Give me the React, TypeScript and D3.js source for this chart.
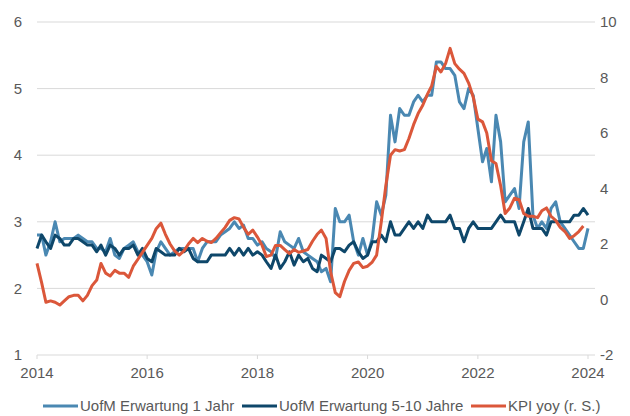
import { useEffect, useRef } from "react";
import * as d3 from "d3";

// monthly values, first point = Jan 2014
const oneYear: number[] = [
  2.8, 2.8, 2.5, 2.7, 3.0, 2.7, 2.75, 2.75, 2.75, 2.8,
  2.75, 2.7, 2.7, 2.6, 2.6, 2.55, 2.75, 2.5, 2.45, 2.6,
  2.65, 2.7, 2.55, 2.5, 2.4, 2.2, 2.55, 2.7, 2.6, 2.5,
  2.55, 2.6, 2.6, 2.6, 2.6, 2.4, 2.6, 2.7, 2.7, 2.7,
  2.8, 2.85, 2.9, 3.0, 2.9, 2.95, 2.75, 2.75, 2.65, 2.7,
  2.6, 2.55, 2.45, 2.85, 2.7, 2.65, 2.6, 2.75, 2.55, 2.5,
  2.45, 2.4, 2.25, 2.3, 2.1, 3.2, 3.0, 3.0, 3.1, 2.7,
  2.5, 2.75, 2.5, 2.75, 3.3, 3.1, 3.4, 4.6, 4.2, 4.7,
  4.6, 4.6, 4.8, 4.9, 4.8, 4.9, 4.9, 5.4, 5.4, 5.3,
  5.3, 5.2, 4.8, 4.7, 5.0, 4.9, 4.4, 3.9, 4.1, 3.6,
  4.6, 4.2, 3.3, 3.4, 3.5, 3.2, 4.2, 4.5, 3.1, 2.9,
  3.0, 2.9, 3.2, 3.3, 3.0, 2.9, 2.8, 2.7, 2.6, 2.6,
  2.9,
];

const fiveTen: number[] = [
  2.6, 2.8, 2.7, 2.6, 2.8, 2.75, 2.65, 2.65, 2.75, 2.75,
  2.7, 2.65, 2.65, 2.55, 2.65, 2.5, 2.65, 2.6, 2.5, 2.6,
  2.6, 2.65, 2.5, 2.6, 2.45, 2.4, 2.6, 2.55, 2.5, 2.5,
  2.5, 2.6, 2.55, 2.6, 2.45, 2.4, 2.4, 2.4, 2.5, 2.5,
  2.5, 2.5, 2.6, 2.5, 2.6, 2.5, 2.6, 2.5, 2.55, 2.5,
  2.4, 2.3, 2.5, 2.3, 2.4, 2.55, 2.35, 2.5, 2.4, 2.45,
  2.3, 2.25, 2.5, 2.45, 2.4, 2.6, 2.6, 2.55, 2.65, 2.7,
  2.55, 2.45, 2.5, 2.7, 2.7, 2.8, 2.7, 3.0, 2.8, 2.8,
  2.9, 3.0, 2.9, 3.0, 2.9, 3.1, 3.0, 3.0, 3.0, 3.0,
  3.1, 2.9, 2.9, 2.7, 2.9, 3.0, 2.9, 2.9, 2.9, 2.9,
  3.0, 3.1, 3.0, 3.0, 3.0, 2.8, 3.0, 3.2, 2.9, 2.9,
  2.9, 2.8, 3.0, 3.0, 3.0, 3.0, 3.0, 3.1, 3.1, 3.2,
  3.1,
];

const kpi: number[] = [
  1.3, 0.6, -0.1, -0.05, -0.1, -0.2, -0.05, 0.1, 0.15, 0.15,
  -0.05, 0.15, 0.5, 0.7, 1.3, 0.95, 0.85, 1.05, 0.95, 0.95,
  0.8, 1.2, 1.45, 1.7, 1.95, 2.2, 2.55, 2.75, 2.35, 2.0,
  1.75, 1.6, 1.75, 2.0, 2.2, 2.05, 2.2, 2.1, 2.05, 2.2,
  2.4, 2.6, 2.85, 2.95, 2.9, 2.6, 2.35, 2.5, 2.25, 1.95,
  1.55, 1.6, 1.95, 1.95, 1.8, 1.65, 1.8, 1.7, 1.75, 1.8,
  2.1, 2.35, 2.5, 2.2, 1.0, 0.25, 0.1, 0.65, 1.05, 1.3,
  1.35, 1.15, 1.2, 1.35, 1.6, 2.8, 4.1, 5.2, 5.4, 5.35,
  5.4, 5.8, 6.3, 6.7, 7.0, 7.4, 7.7, 8.4, 8.2, 8.5,
  9.05, 8.5, 8.3, 8.15, 7.8, 7.3, 6.5, 6.4, 6.0, 5.0,
  4.9, 4.1, 3.1, 3.3, 3.65, 3.6, 3.1, 3.0, 3.0, 2.95,
  3.2, 3.3, 3.0, 2.85, 2.6, 2.45, 2.2, 2.3, 2.45, 2.65,
];

const leftTicks = [1, 2, 3, 4, 5, 6];
const rightTicks = [-2, 0, 2, 4, 6, 8, 10];
const yearTicks = [2014, 2016, 2018, 2020, 2022, 2024];

const series = [
  { name: "UofM Erwartung 1 Jahr", values: oneYear, axis: "left", color: "#4a88b2" },
  { name: "UofM Erwartung 5-10 Jahre", values: fiveTen, axis: "left", color: "#0e476a" },
  { name: "KPI yoy (r. S.)", values: kpi, axis: "right", color: "#db573a" },
];

const FONT = "'Liberation Sans', Arial, sans-serif";
const TEXT = "#595959";
const FONT_SIZE = 15;

export default function App() {
  const ref = useRef<SVGSVGElement | null>(null);

  useEffect(() => {
    const width = 630;
    const height = 416;
    const plot = { left: 37, right: 595, top: 22, bottom: 355 };

    const svg = d3.select(ref.current).attr("width", width).attr("height", height);
    svg.selectAll("*").remove();

    const start = new Date(2014, 0, 1);
    const date = (i: number) => d3.timeMonth.offset(start, i);

    const x = d3
      .scaleTime()
      .domain([start, new Date(2024, 0, 1)])
      .range([plot.left, 588]);
    const yL = d3.scaleLinear().domain([1, 6]).range([plot.bottom, plot.top]);
    const yR = d3.scaleLinear().domain([-2, 10]).range([plot.bottom, plot.top]);

    // gridlines
    svg
      .append("g")
      .selectAll("line")
      .data(leftTicks)
      .enter()
      .append("line")
      .attr("x1", plot.left)
      .attr("x2", plot.right)
      .attr("y1", (d) => yL(d))
      .attr("y2", (d) => yL(d))
      .attr("stroke", "#d9d9d9")
      .attr("stroke-width", 1);

    // x tick marks
    svg
      .append("g")
      .selectAll("line")
      .data(yearTicks)
      .enter()
      .append("line")
      .attr("x1", (d) => x(new Date(d, 0, 1)))
      .attr("x2", (d) => x(new Date(d, 0, 1)))
      .attr("y1", plot.bottom)
      .attr("y2", plot.bottom + 4)
      .attr("stroke", "#d9d9d9");

    const labels = svg.append("g").attr("font-family", FONT).attr("font-size", FONT_SIZE).attr("fill", TEXT);

    labels
      .selectAll("text.l")
      .data(leftTicks)
      .enter()
      .append("text")
      .attr("class", "l")
      .attr("x", 22)
      .attr("y", (d) => yL(d))
      .attr("dy", "0.35em")
      .attr("text-anchor", "end")
      .text((d) => d);

    labels
      .selectAll("text.r")
      .data(rightTicks)
      .enter()
      .append("text")
      .attr("class", "r")
      .attr("x", 600)
      .attr("y", (d) => yR(d))
      .attr("dy", "0.35em")
      .attr("text-anchor", "start")
      .text((d) => d);

    labels
      .selectAll("text.x")
      .data(yearTicks)
      .enter()
      .append("text")
      .attr("class", "x")
      .attr("x", (d) => x(new Date(d, 0, 1)))
      .attr("y", 373)
      .attr("dy", "0.35em")
      .attr("text-anchor", "middle")
      .text((d) => d);

    // lines
    series.forEach((s) => {
      const y = s.axis === "left" ? yL : yR;
      const line = d3
        .line<number>()
        .x((_, i) => x(date(i)))
        .y((d) => y(d));
      svg
        .append("path")
        .datum(s.values)
        .attr("d", line)
        .attr("fill", "none")
        .attr("stroke", s.color)
        .attr("stroke-width", 3)
        .attr("stroke-linejoin", "round");
    });

    // legend
    const legendX = [43, 242, 471];
    const legend = svg.append("g").attr("font-family", FONT).attr("font-size", FONT_SIZE).attr("fill", TEXT);
    series.forEach((s, i) => {
      legend
        .append("line")
        .attr("x1", legendX[i])
        .attr("x2", legendX[i] + 35)
        .attr("y1", 406)
        .attr("y2", 406)
        .attr("stroke", s.color)
        .attr("stroke-width", 3);
      legend
        .append("text")
        .attr("x", legendX[i] + 37)
        .attr("y", 406)
        .attr("dy", "0.35em")
        .text(s.name);
    });
  }, []);

  return (
    <div style={{ position: "absolute", left: 0, top: 0, background: "#fff" }}>
      <svg ref={ref} style={{ display: "block" }} />
    </div>
  );
}
